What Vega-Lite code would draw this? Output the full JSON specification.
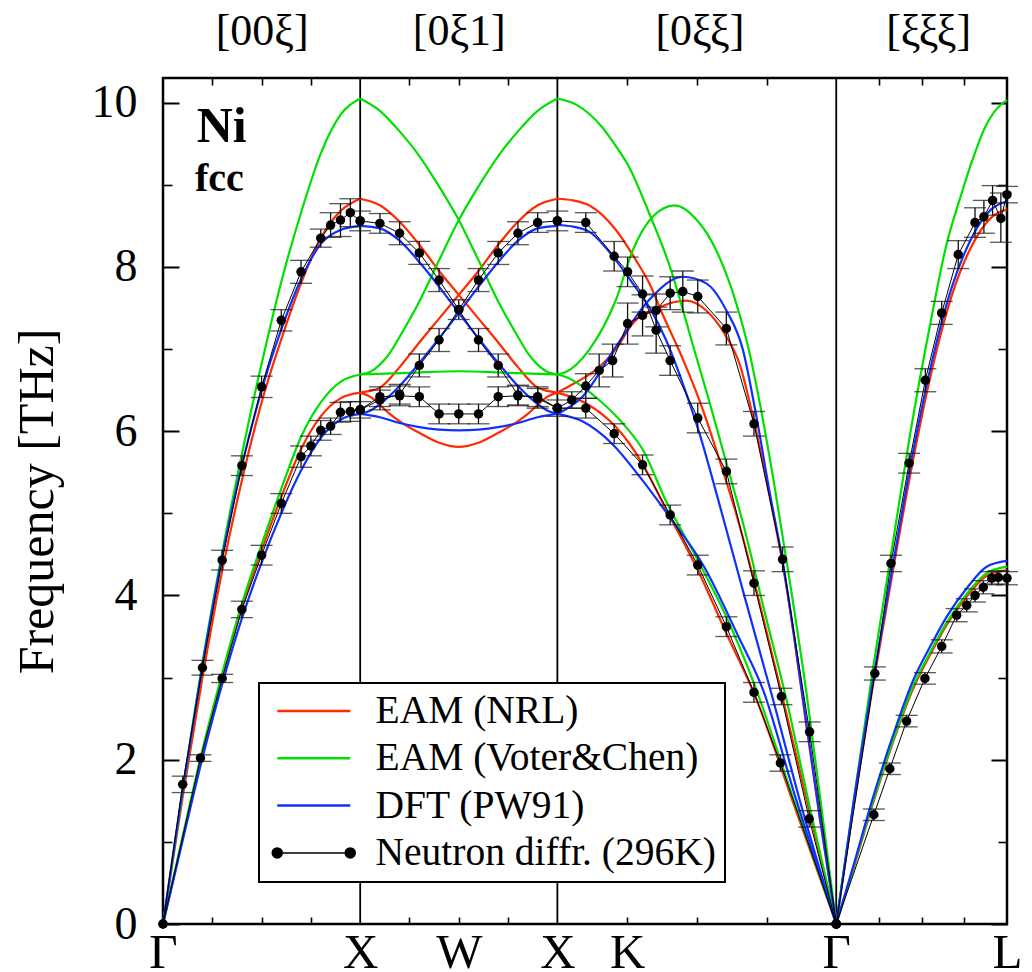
{
"$schema":"https://vega.github.io/schema/vega-lite/v6.json",
"autosize":{"type":"none"},
"padding":{"left":163,"top":78,"right":25,"bottom":48},
"width":844,"height":846,
"config":{"font":"Liberation Serif","view":{"stroke":"black","strokeWidth":2.5},
"axis":{"tickColor":"black","tickWidth":1.6,"labelColor":"black","titleColor":"black","grid":false,"domain":false,"labelFont":"Liberation Serif","titleFont":"Liberation Serif"}},
"datasets":{
"models":[
{"s":"EAM (NRL)","b":"r1","k":0,"v":0},{"s":"EAM (NRL)","b":"r1","k":0.1,"v":1.55},{"s":"EAM (NRL)","b":"r1","k":0.2,"v":3.0},{"s":"EAM (NRL)","b":"r1","k":0.3,"v":4.3},{"s":"EAM (NRL)","b":"r1","k":0.4,"v":5.4},{"s":"EAM (NRL)","b":"r1","k":0.5,"v":6.35},{"s":"EAM (NRL)","b":"r1","k":0.6,"v":7.12},{"s":"EAM (NRL)","b":"r1","k":0.7,"v":7.8},{"s":"EAM (NRL)","b":"r1","k":0.8,"v":8.35},{"s":"EAM (NRL)","b":"r1","k":0.9,"v":8.68},{"s":"EAM (NRL)","b":"r1","k":1.0,"v":8.83},
{"s":"EAM (NRL)","b":"r2","k":0,"v":0},{"s":"EAM (NRL)","b":"r2","k":0.1,"v":1.05},{"s":"EAM (NRL)","b":"r2","k":0.2,"v":2.1},{"s":"EAM (NRL)","b":"r2","k":0.3,"v":3.02},{"s":"EAM (NRL)","b":"r2","k":0.4,"v":3.85},{"s":"EAM (NRL)","b":"r2","k":0.5,"v":4.55},{"s":"EAM (NRL)","b":"r2","k":0.6,"v":5.2},{"s":"EAM (NRL)","b":"r2","k":0.7,"v":5.78},{"s":"EAM (NRL)","b":"r2","k":0.8,"v":6.18},{"s":"EAM (NRL)","b":"r2","k":0.9,"v":6.4},{"s":"EAM (NRL)","b":"r2","k":1.0,"v":6.47},
{"s":"EAM (NRL)","b":"r3","k":1.0,"v":8.83},{"s":"EAM (NRL)","b":"r3","k":1.1,"v":8.75},{"s":"EAM (NRL)","b":"r3","k":1.2,"v":8.55},{"s":"EAM (NRL)","b":"r3","k":1.3,"v":8.27},{"s":"EAM (NRL)","b":"r3","k":1.4,"v":7.95},{"s":"EAM (NRL)","b":"r3","k":1.5,"v":7.66},{"s":"EAM (NRL)","b":"r3","k":1.6,"v":7.37},{"s":"EAM (NRL)","b":"r3","k":1.7,"v":7.08},{"s":"EAM (NRL)","b":"r3","k":1.8,"v":6.78},{"s":"EAM (NRL)","b":"r3","k":1.9,"v":6.53},{"s":"EAM (NRL)","b":"r3","k":1.95,"v":6.49},{"s":"EAM (NRL)","b":"r3","k":2.0,"v":6.47},
{"s":"EAM (NRL)","b":"r4","k":1.0,"v":6.47},{"s":"EAM (NRL)","b":"r4","k":1.05,"v":6.49},{"s":"EAM (NRL)","b":"r4","k":1.1,"v":6.53},{"s":"EAM (NRL)","b":"r4","k":1.2,"v":6.78},{"s":"EAM (NRL)","b":"r4","k":1.3,"v":7.08},{"s":"EAM (NRL)","b":"r4","k":1.4,"v":7.37},{"s":"EAM (NRL)","b":"r4","k":1.5,"v":7.66},{"s":"EAM (NRL)","b":"r4","k":1.6,"v":7.95},{"s":"EAM (NRL)","b":"r4","k":1.7,"v":8.27},{"s":"EAM (NRL)","b":"r4","k":1.8,"v":8.55},{"s":"EAM (NRL)","b":"r4","k":1.9,"v":8.75},{"s":"EAM (NRL)","b":"r4","k":2.0,"v":8.83},
{"s":"EAM (NRL)","b":"r5","k":1.0,"v":6.47},{"s":"EAM (NRL)","b":"r5","k":1.05,"v":6.42},{"s":"EAM (NRL)","b":"r5","k":1.1,"v":6.32},{"s":"EAM (NRL)","b":"r5","k":1.15,"v":6.21},{"s":"EAM (NRL)","b":"r5","k":1.2,"v":6.12},{"s":"EAM (NRL)","b":"r5","k":1.3,"v":5.98},{"s":"EAM (NRL)","b":"r5","k":1.4,"v":5.86},{"s":"EAM (NRL)","b":"r5","k":1.5,"v":5.81},{"s":"EAM (NRL)","b":"r5","k":1.6,"v":5.86},{"s":"EAM (NRL)","b":"r5","k":1.7,"v":5.98},{"s":"EAM (NRL)","b":"r5","k":1.8,"v":6.12},{"s":"EAM (NRL)","b":"r5","k":1.85,"v":6.21},{"s":"EAM (NRL)","b":"r5","k":1.9,"v":6.32},{"s":"EAM (NRL)","b":"r5","k":1.95,"v":6.42},{"s":"EAM (NRL)","b":"r5","k":2.0,"v":6.47},
{"s":"EAM (NRL)","b":"r6","k":2.0,"v":8.83},{"s":"EAM (NRL)","b":"r6","k":2.08,"v":8.81},{"s":"EAM (NRL)","b":"r6","k":2.161,"v":8.75},{"s":"EAM (NRL)","b":"r6","k":2.297,"v":8.45},{"s":"EAM (NRL)","b":"r6","k":2.399,"v":8.08},{"s":"EAM (NRL)","b":"r6","k":2.466,"v":7.8},{"s":"EAM (NRL)","b":"r6","k":2.534,"v":7.42},{"s":"EAM (NRL)","b":"r6","k":2.636,"v":6.88},{"s":"EAM (NRL)","b":"r6","k":2.738,"v":6.26},{"s":"EAM (NRL)","b":"r6","k":2.806,"v":5.77},{"s":"EAM (NRL)","b":"r6","k":2.924,"v":4.85},{"s":"EAM (NRL)","b":"r6","k":3.026,"v":3.9},{"s":"EAM (NRL)","b":"r6","k":3.145,"v":2.73},{"s":"EAM (NRL)","b":"r6","k":3.265,"v":1.5},{"s":"EAM (NRL)","b":"r6","k":3.4142,"v":0},
{"s":"EAM (NRL)","b":"r7","k":2.0,"v":6.47},{"s":"EAM (NRL)","b":"r7","k":2.084,"v":6.58},{"s":"EAM (NRL)","b":"r7","k":2.212,"v":6.78},{"s":"EAM (NRL)","b":"r7","k":2.297,"v":7.0},{"s":"EAM (NRL)","b":"r7","k":2.382,"v":7.31},{"s":"EAM (NRL)","b":"r7","k":2.517,"v":7.51},{"s":"EAM (NRL)","b":"r7","k":2.653,"v":7.59},{"s":"EAM (NRL)","b":"r7","k":2.755,"v":7.47},{"s":"EAM (NRL)","b":"r7","k":2.857,"v":7.15},{"s":"EAM (NRL)","b":"r7","k":2.924,"v":6.82},{"s":"EAM (NRL)","b":"r7","k":2.997,"v":6.12},{"s":"EAM (NRL)","b":"r7","k":3.077,"v":5.2},{"s":"EAM (NRL)","b":"r7","k":3.145,"v":4.35},{"s":"EAM (NRL)","b":"r7","k":3.2,"v":3.5},{"s":"EAM (NRL)","b":"r7","k":3.255,"v":2.55},{"s":"EAM (NRL)","b":"r7","k":3.33,"v":1.3},{"s":"EAM (NRL)","b":"r7","k":3.4142,"v":0},
{"s":"EAM (NRL)","b":"r8","k":2.0,"v":6.47},{"s":"EAM (NRL)","b":"r8","k":2.144,"v":6.34},{"s":"EAM (NRL)","b":"r8","k":2.297,"v":6.05},{"s":"EAM (NRL)","b":"r8","k":2.365,"v":5.85},{"s":"EAM (NRL)","b":"r8","k":2.432,"v":5.6},{"s":"EAM (NRL)","b":"r8","k":2.551,"v":5.05},{"s":"EAM (NRL)","b":"r8","k":2.712,"v":4.31},{"s":"EAM (NRL)","b":"r8","k":2.857,"v":3.54},{"s":"EAM (NRL)","b":"r8","k":2.997,"v":2.81},{"s":"EAM (NRL)","b":"r8","k":3.2,"v":1.45},{"s":"EAM (NRL)","b":"r8","k":3.4142,"v":0},
{"s":"EAM (NRL)","b":"r9","k":3.4142,"v":0},{"s":"EAM (NRL)","b":"r9","k":3.5,"v":1.4},{"s":"EAM (NRL)","b":"r9","k":3.6,"v":2.9},{"s":"EAM (NRL)","b":"r9","k":3.7,"v":4.28},{"s":"EAM (NRL)","b":"r9","k":3.8,"v":5.6},{"s":"EAM (NRL)","b":"r9","k":3.9,"v":6.75},{"s":"EAM (NRL)","b":"r9","k":4.0,"v":7.65},{"s":"EAM (NRL)","b":"r9","k":4.1,"v":8.25},{"s":"EAM (NRL)","b":"r9","k":4.2,"v":8.6},{"s":"EAM (NRL)","b":"r9","k":4.2802,"v":8.7},
{"s":"EAM (NRL)","b":"r10","k":3.4142,"v":0},{"s":"EAM (NRL)","b":"r10","k":3.5,"v":0.66},{"s":"EAM (NRL)","b":"r10","k":3.602,"v":1.48},{"s":"EAM (NRL)","b":"r10","k":3.7,"v":2.2},{"s":"EAM (NRL)","b":"r10","k":3.805,"v":2.87},{"s":"EAM (NRL)","b":"r10","k":3.9,"v":3.32},{"s":"EAM (NRL)","b":"r10","k":3.974,"v":3.64},{"s":"EAM (NRL)","b":"r10","k":4.08,"v":4.0},{"s":"EAM (NRL)","b":"r10","k":4.177,"v":4.24},{"s":"EAM (NRL)","b":"r10","k":4.2802,"v":4.31},
{"s":"EAM (Voter&Chen)","b":"g1","k":0,"v":0},{"s":"EAM (Voter&Chen)","b":"g1","k":0.1,"v":1.62},{"s":"EAM (Voter&Chen)","b":"g1","k":0.2,"v":3.18},{"s":"EAM (Voter&Chen)","b":"g1","k":0.3,"v":4.52},{"s":"EAM (Voter&Chen)","b":"g1","k":0.4,"v":5.72},{"s":"EAM (Voter&Chen)","b":"g1","k":0.5,"v":6.82},{"s":"EAM (Voter&Chen)","b":"g1","k":0.6,"v":7.82},{"s":"EAM (Voter&Chen)","b":"g1","k":0.7,"v":8.66},{"s":"EAM (Voter&Chen)","b":"g1","k":0.8,"v":9.38},{"s":"EAM (Voter&Chen)","b":"g1","k":0.9,"v":9.85},{"s":"EAM (Voter&Chen)","b":"g1","k":1.0,"v":10.05},
{"s":"EAM (Voter&Chen)","b":"g2","k":0,"v":0},{"s":"EAM (Voter&Chen)","b":"g2","k":0.1,"v":1.07},{"s":"EAM (Voter&Chen)","b":"g2","k":0.2,"v":2.12},{"s":"EAM (Voter&Chen)","b":"g2","k":0.3,"v":3.05},{"s":"EAM (Voter&Chen)","b":"g2","k":0.4,"v":3.9},{"s":"EAM (Voter&Chen)","b":"g2","k":0.5,"v":4.62},{"s":"EAM (Voter&Chen)","b":"g2","k":0.6,"v":5.3},{"s":"EAM (Voter&Chen)","b":"g2","k":0.7,"v":5.93},{"s":"EAM (Voter&Chen)","b":"g2","k":0.8,"v":6.35},{"s":"EAM (Voter&Chen)","b":"g2","k":0.9,"v":6.6},{"s":"EAM (Voter&Chen)","b":"g2","k":1.0,"v":6.69},
{"s":"EAM (Voter&Chen)","b":"g3","k":1.0,"v":10.05},{"s":"EAM (Voter&Chen)","b":"g3","k":1.1,"v":9.9},{"s":"EAM (Voter&Chen)","b":"g3","k":1.2,"v":9.65},{"s":"EAM (Voter&Chen)","b":"g3","k":1.3,"v":9.35},{"s":"EAM (Voter&Chen)","b":"g3","k":1.4,"v":8.98},{"s":"EAM (Voter&Chen)","b":"g3","k":1.5,"v":8.57},{"s":"EAM (Voter&Chen)","b":"g3","k":1.6,"v":8.08},{"s":"EAM (Voter&Chen)","b":"g3","k":1.7,"v":7.58},{"s":"EAM (Voter&Chen)","b":"g3","k":1.8,"v":7.15},{"s":"EAM (Voter&Chen)","b":"g3","k":1.85,"v":6.95},{"s":"EAM (Voter&Chen)","b":"g3","k":1.9,"v":6.81},{"s":"EAM (Voter&Chen)","b":"g3","k":1.95,"v":6.72},{"s":"EAM (Voter&Chen)","b":"g3","k":2.0,"v":6.69},
{"s":"EAM (Voter&Chen)","b":"g4","k":1.0,"v":6.69},{"s":"EAM (Voter&Chen)","b":"g4","k":1.05,"v":6.72},{"s":"EAM (Voter&Chen)","b":"g4","k":1.1,"v":6.81},{"s":"EAM (Voter&Chen)","b":"g4","k":1.15,"v":6.95},{"s":"EAM (Voter&Chen)","b":"g4","k":1.2,"v":7.15},{"s":"EAM (Voter&Chen)","b":"g4","k":1.3,"v":7.58},{"s":"EAM (Voter&Chen)","b":"g4","k":1.4,"v":8.08},{"s":"EAM (Voter&Chen)","b":"g4","k":1.5,"v":8.57},{"s":"EAM (Voter&Chen)","b":"g4","k":1.6,"v":8.98},{"s":"EAM (Voter&Chen)","b":"g4","k":1.7,"v":9.35},{"s":"EAM (Voter&Chen)","b":"g4","k":1.8,"v":9.65},{"s":"EAM (Voter&Chen)","b":"g4","k":1.9,"v":9.9},{"s":"EAM (Voter&Chen)","b":"g4","k":2.0,"v":10.05},
{"s":"EAM (Voter&Chen)","b":"g5","k":1.0,"v":6.69},{"s":"EAM (Voter&Chen)","b":"g5","k":1.25,"v":6.71},{"s":"EAM (Voter&Chen)","b":"g5","k":1.5,"v":6.73},{"s":"EAM (Voter&Chen)","b":"g5","k":1.75,"v":6.71},{"s":"EAM (Voter&Chen)","b":"g5","k":2.0,"v":6.69},
{"s":"EAM (Voter&Chen)","b":"g6","k":2.0,"v":10.05},{"s":"EAM (Voter&Chen)","b":"g6","k":2.1,"v":9.97},{"s":"EAM (Voter&Chen)","b":"g6","k":2.224,"v":9.71},{"s":"EAM (Voter&Chen)","b":"g6","k":2.297,"v":9.47},{"s":"EAM (Voter&Chen)","b":"g6","k":2.363,"v":9.22},{"s":"EAM (Voter&Chen)","b":"g6","k":2.466,"v":8.65},{"s":"EAM (Voter&Chen)","b":"g6","k":2.571,"v":8.0},{"s":"EAM (Voter&Chen)","b":"g6","k":2.64,"v":7.45},{"s":"EAM (Voter&Chen)","b":"g6","k":2.687,"v":7.05},{"s":"EAM (Voter&Chen)","b":"g6","k":2.772,"v":6.35},{"s":"EAM (Voter&Chen)","b":"g6","k":2.839,"v":5.77},{"s":"EAM (Voter&Chen)","b":"g6","k":2.95,"v":4.8},{"s":"EAM (Voter&Chen)","b":"g6","k":3.051,"v":3.8},{"s":"EAM (Voter&Chen)","b":"g6","k":3.162,"v":2.73},{"s":"EAM (Voter&Chen)","b":"g6","k":3.28,"v":1.42},{"s":"EAM (Voter&Chen)","b":"g6","k":3.4142,"v":0},
{"s":"EAM (Voter&Chen)","b":"g7","k":2.0,"v":6.69},{"s":"EAM (Voter&Chen)","b":"g7","k":2.043,"v":6.72},{"s":"EAM (Voter&Chen)","b":"g7","k":2.161,"v":6.99},{"s":"EAM (Voter&Chen)","b":"g7","k":2.297,"v":7.6},{"s":"EAM (Voter&Chen)","b":"g7","k":2.382,"v":8.2},{"s":"EAM (Voter&Chen)","b":"g7","k":2.483,"v":8.61},{"s":"EAM (Voter&Chen)","b":"g7","k":2.594,"v":8.75},{"s":"EAM (Voter&Chen)","b":"g7","k":2.704,"v":8.58},{"s":"EAM (Voter&Chen)","b":"g7","k":2.806,"v":8.2},{"s":"EAM (Voter&Chen)","b":"g7","k":2.908,"v":7.55},{"s":"EAM (Voter&Chen)","b":"g7","k":2.975,"v":6.95},{"s":"EAM (Voter&Chen)","b":"g7","k":3.03,"v":6.3},{"s":"EAM (Voter&Chen)","b":"g7","k":3.1,"v":5.35},{"s":"EAM (Voter&Chen)","b":"g7","k":3.18,"v":4.15},{"s":"EAM (Voter&Chen)","b":"g7","k":3.264,"v":2.8},{"s":"EAM (Voter&Chen)","b":"g7","k":3.34,"v":1.4},{"s":"EAM (Voter&Chen)","b":"g7","k":3.4142,"v":0},
{"s":"EAM (Voter&Chen)","b":"g8","k":2.0,"v":6.69},{"s":"EAM (Voter&Chen)","b":"g8","k":2.043,"v":6.66},{"s":"EAM (Voter&Chen)","b":"g8","k":2.212,"v":6.38},{"s":"EAM (Voter&Chen)","b":"g8","k":2.348,"v":6.05},{"s":"EAM (Voter&Chen)","b":"g8","k":2.432,"v":5.78},{"s":"EAM (Voter&Chen)","b":"g8","k":2.551,"v":5.15},{"s":"EAM (Voter&Chen)","b":"g8","k":2.712,"v":4.43},{"s":"EAM (Voter&Chen)","b":"g8","k":2.857,"v":3.74},{"s":"EAM (Voter&Chen)","b":"g8","k":2.997,"v":2.93},{"s":"EAM (Voter&Chen)","b":"g8","k":3.2,"v":1.5},{"s":"EAM (Voter&Chen)","b":"g8","k":3.4142,"v":0},
{"s":"EAM (Voter&Chen)","b":"g9","k":3.4142,"v":0},{"s":"EAM (Voter&Chen)","b":"g9","k":3.5,"v":1.45},{"s":"EAM (Voter&Chen)","b":"g9","k":3.6,"v":3.1},{"s":"EAM (Voter&Chen)","b":"g9","k":3.7,"v":4.62},{"s":"EAM (Voter&Chen)","b":"g9","k":3.788,"v":5.95},{"s":"EAM (Voter&Chen)","b":"g9","k":3.889,"v":7.28},{"s":"EAM (Voter&Chen)","b":"g9","k":3.974,"v":8.28},{"s":"EAM (Voter&Chen)","b":"g9","k":4.044,"v":8.85},{"s":"EAM (Voter&Chen)","b":"g9","k":4.109,"v":9.33},{"s":"EAM (Voter&Chen)","b":"g9","k":4.165,"v":9.68},{"s":"EAM (Voter&Chen)","b":"g9","k":4.23,"v":9.93},{"s":"EAM (Voter&Chen)","b":"g9","k":4.2802,"v":10.03},
{"s":"EAM (Voter&Chen)","b":"g10","k":3.4142,"v":0},{"s":"EAM (Voter&Chen)","b":"g10","k":3.5,"v":0.68},{"s":"EAM (Voter&Chen)","b":"g10","k":3.602,"v":1.5},{"s":"EAM (Voter&Chen)","b":"g10","k":3.7,"v":2.22},{"s":"EAM (Voter&Chen)","b":"g10","k":3.805,"v":2.9},{"s":"EAM (Voter&Chen)","b":"g10","k":3.9,"v":3.35},{"s":"EAM (Voter&Chen)","b":"g10","k":3.974,"v":3.67},{"s":"EAM (Voter&Chen)","b":"g10","k":4.08,"v":4.03},{"s":"EAM (Voter&Chen)","b":"g10","k":4.177,"v":4.27},{"s":"EAM (Voter&Chen)","b":"g10","k":4.2802,"v":4.35},
{"s":"DFT (PW91)","b":"d1","k":0,"v":0},{"s":"DFT (PW91)","b":"d1","k":0.1,"v":1.65},{"s":"DFT (PW91)","b":"d1","k":0.2,"v":3.15},{"s":"DFT (PW91)","b":"d1","k":0.3,"v":4.47},{"s":"DFT (PW91)","b":"d1","k":0.4,"v":5.58},{"s":"DFT (PW91)","b":"d1","k":0.5,"v":6.5},{"s":"DFT (PW91)","b":"d1","k":0.6,"v":7.24},{"s":"DFT (PW91)","b":"d1","k":0.7,"v":7.85},{"s":"DFT (PW91)","b":"d1","k":0.8,"v":8.28},{"s":"DFT (PW91)","b":"d1","k":0.9,"v":8.45},{"s":"DFT (PW91)","b":"d1","k":1.0,"v":8.5},
{"s":"DFT (PW91)","b":"d2","k":0,"v":0},{"s":"DFT (PW91)","b":"d2","k":0.1,"v":1.02},{"s":"DFT (PW91)","b":"d2","k":0.2,"v":2.02},{"s":"DFT (PW91)","b":"d2","k":0.3,"v":2.92},{"s":"DFT (PW91)","b":"d2","k":0.4,"v":3.72},{"s":"DFT (PW91)","b":"d2","k":0.5,"v":4.4},{"s":"DFT (PW91)","b":"d2","k":0.6,"v":5.0},{"s":"DFT (PW91)","b":"d2","k":0.7,"v":5.52},{"s":"DFT (PW91)","b":"d2","k":0.8,"v":5.92},{"s":"DFT (PW91)","b":"d2","k":0.9,"v":6.14},{"s":"DFT (PW91)","b":"d2","k":1.0,"v":6.21},
{"s":"DFT (PW91)","b":"d3","k":1.0,"v":8.5},{"s":"DFT (PW91)","b":"d3","k":1.1,"v":8.47},{"s":"DFT (PW91)","b":"d3","k":1.2,"v":8.32},{"s":"DFT (PW91)","b":"d3","k":1.3,"v":8.06},{"s":"DFT (PW91)","b":"d3","k":1.4,"v":7.76},{"s":"DFT (PW91)","b":"d3","k":1.5,"v":7.44},{"s":"DFT (PW91)","b":"d3","k":1.6,"v":7.13},{"s":"DFT (PW91)","b":"d3","k":1.7,"v":6.83},{"s":"DFT (PW91)","b":"d3","k":1.8,"v":6.55},{"s":"DFT (PW91)","b":"d3","k":1.9,"v":6.33},{"s":"DFT (PW91)","b":"d3","k":1.95,"v":6.25},{"s":"DFT (PW91)","b":"d3","k":2.0,"v":6.21},
{"s":"DFT (PW91)","b":"d4","k":1.0,"v":6.21},{"s":"DFT (PW91)","b":"d4","k":1.05,"v":6.25},{"s":"DFT (PW91)","b":"d4","k":1.1,"v":6.33},{"s":"DFT (PW91)","b":"d4","k":1.2,"v":6.55},{"s":"DFT (PW91)","b":"d4","k":1.3,"v":6.83},{"s":"DFT (PW91)","b":"d4","k":1.4,"v":7.13},{"s":"DFT (PW91)","b":"d4","k":1.5,"v":7.44},{"s":"DFT (PW91)","b":"d4","k":1.6,"v":7.76},{"s":"DFT (PW91)","b":"d4","k":1.7,"v":8.06},{"s":"DFT (PW91)","b":"d4","k":1.8,"v":8.32},{"s":"DFT (PW91)","b":"d4","k":1.9,"v":8.47},{"s":"DFT (PW91)","b":"d4","k":2.0,"v":8.5},
{"s":"DFT (PW91)","b":"d5","k":1.0,"v":6.21},{"s":"DFT (PW91)","b":"d5","k":1.1,"v":6.17},{"s":"DFT (PW91)","b":"d5","k":1.2,"v":6.1},{"s":"DFT (PW91)","b":"d5","k":1.3,"v":6.05},{"s":"DFT (PW91)","b":"d5","k":1.4,"v":6.02},{"s":"DFT (PW91)","b":"d5","k":1.5,"v":6.01},{"s":"DFT (PW91)","b":"d5","k":1.6,"v":6.02},{"s":"DFT (PW91)","b":"d5","k":1.7,"v":6.05},{"s":"DFT (PW91)","b":"d5","k":1.8,"v":6.1},{"s":"DFT (PW91)","b":"d5","k":1.9,"v":6.17},{"s":"DFT (PW91)","b":"d5","k":2.0,"v":6.21},
{"s":"DFT (PW91)","b":"d6","k":2.0,"v":8.51},{"s":"DFT (PW91)","b":"d6","k":2.08,"v":8.49},{"s":"DFT (PW91)","b":"d6","k":2.161,"v":8.43},{"s":"DFT (PW91)","b":"d6","k":2.297,"v":8.08},{"s":"DFT (PW91)","b":"d6","k":2.382,"v":7.8},{"s":"DFT (PW91)","b":"d6","k":2.466,"v":7.51},{"s":"DFT (PW91)","b":"d6","k":2.551,"v":7.11},{"s":"DFT (PW91)","b":"d6","k":2.636,"v":6.58},{"s":"DFT (PW91)","b":"d6","k":2.721,"v":5.97},{"s":"DFT (PW91)","b":"d6","k":2.823,"v":5.1},{"s":"DFT (PW91)","b":"d6","k":2.95,"v":3.98},{"s":"DFT (PW91)","b":"d6","k":3.094,"v":2.73},{"s":"DFT (PW91)","b":"d6","k":3.23,"v":1.5},{"s":"DFT (PW91)","b":"d6","k":3.4142,"v":0},
{"s":"DFT (PW91)","b":"d7","k":2.0,"v":6.21},{"s":"DFT (PW91)","b":"d7","k":2.127,"v":6.42},{"s":"DFT (PW91)","b":"d7","k":2.297,"v":7.03},{"s":"DFT (PW91)","b":"d7","k":2.466,"v":7.6},{"s":"DFT (PW91)","b":"d7","k":2.636,"v":7.88},{"s":"DFT (PW91)","b":"d7","k":2.755,"v":7.8},{"s":"DFT (PW91)","b":"d7","k":2.857,"v":7.47},{"s":"DFT (PW91)","b":"d7","k":2.941,"v":6.99},{"s":"DFT (PW91)","b":"d7","k":3.0,"v":6.3},{"s":"DFT (PW91)","b":"d7","k":3.077,"v":5.25},{"s":"DFT (PW91)","b":"d7","k":3.145,"v":4.38},{"s":"DFT (PW91)","b":"d7","k":3.2,"v":3.52},{"s":"DFT (PW91)","b":"d7","k":3.255,"v":2.58},{"s":"DFT (PW91)","b":"d7","k":3.33,"v":1.32},{"s":"DFT (PW91)","b":"d7","k":3.4142,"v":0},
{"s":"DFT (PW91)","b":"d8","k":2.0,"v":6.21},{"s":"DFT (PW91)","b":"d8","k":2.127,"v":6.12},{"s":"DFT (PW91)","b":"d8","k":2.276,"v":5.85},{"s":"DFT (PW91)","b":"d8","k":2.416,"v":5.45},{"s":"DFT (PW91)","b":"d8","k":2.571,"v":4.95},{"s":"DFT (PW91)","b":"d8","k":2.744,"v":4.35},{"s":"DFT (PW91)","b":"d8","k":2.918,"v":3.5},{"s":"DFT (PW91)","b":"d8","k":3.043,"v":2.85},{"s":"DFT (PW91)","b":"d8","k":3.2,"v":1.6},{"s":"DFT (PW91)","b":"d8","k":3.4142,"v":0},
{"s":"DFT (PW91)","b":"d9","k":3.4142,"v":0},{"s":"DFT (PW91)","b":"d9","k":3.5,"v":1.45},{"s":"DFT (PW91)","b":"d9","k":3.6,"v":2.95},{"s":"DFT (PW91)","b":"d9","k":3.7,"v":4.35},{"s":"DFT (PW91)","b":"d9","k":3.8,"v":5.7},{"s":"DFT (PW91)","b":"d9","k":3.9,"v":6.85},{"s":"DFT (PW91)","b":"d9","k":4.0,"v":7.75},{"s":"DFT (PW91)","b":"d9","k":4.1,"v":8.35},{"s":"DFT (PW91)","b":"d9","k":4.2,"v":8.7},{"s":"DFT (PW91)","b":"d9","k":4.2802,"v":8.8},
{"s":"DFT (PW91)","b":"d10","k":3.4142,"v":0},{"s":"DFT (PW91)","b":"d10","k":3.5,"v":0.7},{"s":"DFT (PW91)","b":"d10","k":3.602,"v":1.55},{"s":"DFT (PW91)","b":"d10","k":3.7,"v":2.28},{"s":"DFT (PW91)","b":"d10","k":3.805,"v":2.97},{"s":"DFT (PW91)","b":"d10","k":3.9,"v":3.42},{"s":"DFT (PW91)","b":"d10","k":3.974,"v":3.74},{"s":"DFT (PW91)","b":"d10","k":4.08,"v":4.1},{"s":"DFT (PW91)","b":"d10","k":4.177,"v":4.35},{"s":"DFT (PW91)","b":"d10","k":4.2802,"v":4.42}
],
"neutron":[
{"b":"n1","k":0,"v":0},{"b":"n1","k":0.1,"v":1.7,"lo":1.6,"hi":1.8},{"b":"n1","k":0.2,"v":3.12,"lo":3.03,"hi":3.21},{"b":"n1","k":0.3,"v":4.43,"lo":4.31,"hi":4.55},{"b":"n1","k":0.4,"v":5.58,"lo":5.46,"hi":5.7},{"b":"n1","k":0.5,"v":6.54,"lo":6.41,"hi":6.67},{"b":"n1","k":0.6,"v":7.35,"lo":7.22,"hi":7.48},{"b":"n1","k":0.7,"v":7.94,"lo":7.8,"hi":8.08},{"b":"n1","k":0.8,"v":8.35,"lo":8.24,"hi":8.46},{"b":"n1","k":0.85,"v":8.51,"lo":8.36,"hi":8.66},{"b":"n1","k":0.9,"v":8.57,"lo":8.37,"hi":8.77},{"b":"n1","k":0.95,"v":8.66,"lo":8.49,"hi":8.83},{"b":"n1","k":1.0,"v":8.56,"lo":8.44,"hi":8.68},
{"b":"n2","k":0,"v":0},{"b":"n2","k":0.19,"v":2.02,"lo":1.98,"hi":2.06},{"b":"n2","k":0.3,"v":2.99,"lo":2.94,"hi":3.04},{"b":"n2","k":0.4,"v":3.83,"lo":3.73,"hi":3.93},{"b":"n2","k":0.5,"v":4.49,"lo":4.37,"hi":4.61},{"b":"n2","k":0.6,"v":5.12,"lo":5.0,"hi":5.24},{"b":"n2","k":0.7,"v":5.69,"lo":5.56,"hi":5.82},{"b":"n2","k":0.75,"v":5.82,"lo":5.7,"hi":5.94},{"b":"n2","k":0.8,"v":6.01,"lo":5.89,"hi":6.13},{"b":"n2","k":0.85,"v":6.06,"lo":5.96,"hi":6.16},{"b":"n2","k":0.9,"v":6.23,"lo":6.11,"hi":6.35},{"b":"n2","k":0.95,"v":6.24,"lo":6.12,"hi":6.36},{"b":"n2","k":1.0,"v":6.26,"lo":6.16,"hi":6.36},
{"b":"n3","k":1.0,"v":8.56},{"b":"n3","k":1.1,"v":8.53,"lo":8.41,"hi":8.65},{"b":"n3","k":1.2,"v":8.41,"lo":8.27,"hi":8.55},{"b":"n3","k":1.3,"v":8.17,"lo":8.03,"hi":8.31},{"b":"n3","k":1.4,"v":7.84,"lo":7.7,"hi":7.98},{"b":"n3","k":1.5,"v":7.48,"lo":7.36,"hi":7.6},{"b":"n3","k":1.6,"v":7.11,"lo":6.97,"hi":7.25},{"b":"n3","k":1.7,"v":6.8,"lo":6.66,"hi":6.94},{"b":"n3","k":1.8,"v":6.44,"lo":6.32,"hi":6.56},{"b":"n3","k":1.9,"v":6.4,"lo":6.28,"hi":6.52},{"b":"n3","k":2.0,"v":6.28,"lo":6.18,"hi":6.38},
{"b":"n4","k":1.0,"v":6.26},{"b":"n4","k":1.1,"v":6.38,"lo":6.26,"hi":6.5},{"b":"n4","k":1.2,"v":6.45,"lo":6.33,"hi":6.57},{"b":"n4","k":1.3,"v":6.8,"lo":6.66,"hi":6.94},{"b":"n4","k":1.4,"v":7.11,"lo":6.97,"hi":7.25},{"b":"n4","k":1.5,"v":7.48},{"b":"n4","k":1.6,"v":7.84,"lo":7.7,"hi":7.98},{"b":"n4","k":1.7,"v":8.17,"lo":8.03,"hi":8.31},{"b":"n4","k":1.8,"v":8.41,"lo":8.27,"hi":8.55},{"b":"n4","k":1.9,"v":8.54,"lo":8.42,"hi":8.66},{"b":"n4","k":2.0,"v":8.56,"lo":8.44,"hi":8.68},
{"b":"n5","k":1.0,"v":6.26},{"b":"n5","k":1.1,"v":6.42,"lo":6.3,"hi":6.54},{"b":"n5","k":1.2,"v":6.43,"lo":6.31,"hi":6.55},{"b":"n5","k":1.3,"v":6.42,"lo":6.3,"hi":6.54},{"b":"n5","k":1.4,"v":6.21,"lo":6.09,"hi":6.33},{"b":"n5","k":1.5,"v":6.21,"lo":6.09,"hi":6.33},{"b":"n5","k":1.6,"v":6.21,"lo":6.09,"hi":6.33},{"b":"n5","k":1.7,"v":6.42,"lo":6.3,"hi":6.54},{"b":"n5","k":1.8,"v":6.43,"lo":6.31,"hi":6.55},{"b":"n5","k":1.9,"v":6.42,"lo":6.3,"hi":6.54},{"b":"n5","k":2.0,"v":6.28},
{"b":"n6","k":2.0,"v":8.56},{"b":"n6","k":2.144,"v":8.54,"lo":8.42,"hi":8.66},{"b":"n6","k":2.288,"v":8.13,"lo":7.95,"hi":8.31},{"b":"n6","k":2.356,"v":7.94,"lo":7.76,"hi":8.12},{"b":"n6","k":2.432,"v":7.67,"lo":7.45,"hi":7.89},{"b":"n6","k":2.501,"v":7.23,"lo":6.95,"hi":7.51},{"b":"n6","k":2.572,"v":6.86,"lo":6.68,"hi":7.04},{"b":"n6","k":2.712,"v":6.16,"lo":5.98,"hi":6.34},{"b":"n6","k":2.857,"v":5.51,"lo":5.36,"hi":5.66},{"b":"n6","k":2.997,"v":4.15,"lo":4.0,"hi":4.3},{"b":"n6","k":3.136,"v":2.77,"lo":2.67,"hi":2.87},{"b":"n6","k":3.277,"v":1.28,"lo":1.18,"hi":1.38},{"b":"n6","k":3.4142,"v":0},
{"b":"n7","k":2.0,"v":6.28},{"b":"n7","k":2.073,"v":6.38,"lo":6.28,"hi":6.48},{"b":"n7","k":2.144,"v":6.55,"lo":6.4,"hi":6.7},{"b":"n7","k":2.212,"v":6.74,"lo":6.54,"hi":6.94},{"b":"n7","k":2.28,"v":6.86,"lo":6.66,"hi":7.06},{"b":"n7","k":2.356,"v":7.31,"lo":7.06,"hi":7.56},{"b":"n7","k":2.432,"v":7.41,"lo":7.16,"hi":7.66},{"b":"n7","k":2.501,"v":7.47,"lo":7.27,"hi":7.67},{"b":"n7","k":2.572,"v":7.68,"lo":7.48,"hi":7.88},{"b":"n7","k":2.636,"v":7.7,"lo":7.45,"hi":7.95},{"b":"n7","k":2.712,"v":7.64,"lo":7.44,"hi":7.84},{"b":"n7","k":2.857,"v":7.25,"lo":7.05,"hi":7.45},{"b":"n7","k":2.997,"v":6.09,"lo":5.94,"hi":6.24},{"b":"n7","k":3.142,"v":4.44,"lo":4.29,"hi":4.59},{"b":"n7","k":3.279,"v":2.34,"lo":2.22,"hi":2.46},{"b":"n7","k":3.4142,"v":0},
{"b":"n8","k":2.0,"v":6.28},{"b":"n8","k":2.144,"v":6.28,"lo":6.16,"hi":6.4},{"b":"n8","k":2.288,"v":5.97,"lo":5.85,"hi":6.09},{"b":"n8","k":2.432,"v":5.59,"lo":5.47,"hi":5.71},{"b":"n8","k":2.572,"v":4.98,"lo":4.86,"hi":5.1},{"b":"n8","k":2.712,"v":4.37,"lo":4.25,"hi":4.49},{"b":"n8","k":2.857,"v":3.62,"lo":3.5,"hi":3.74},{"b":"n8","k":2.997,"v":2.82,"lo":2.7,"hi":2.94},{"b":"n8","k":3.131,"v":1.96,"lo":1.86,"hi":2.06},{"b":"n8","k":3.4142,"v":0},
{"b":"n9","k":3.4142,"v":0},{"b":"n9","k":3.61,"v":3.05,"lo":2.97,"hi":3.13},{"b":"n9","k":3.692,"v":4.39,"lo":4.29,"hi":4.49},{"b":"n9","k":3.784,"v":5.61,"lo":5.49,"hi":5.73},{"b":"n9","k":3.866,"v":6.62,"lo":6.48,"hi":6.76},{"b":"n9","k":3.949,"v":7.44,"lo":7.3,"hi":7.58},{"b":"n9","k":4.033,"v":8.15,"lo":7.98,"hi":8.32},{"b":"n9","k":4.118,"v":8.54,"lo":8.36,"hi":8.72},{"b":"n9","k":4.163,"v":8.61,"lo":8.41,"hi":8.81},{"b":"n9","k":4.207,"v":8.81,"lo":8.63,"hi":8.99},{"b":"n9","k":4.249,"v":8.59,"lo":8.3,"hi":8.9},{"b":"n9","k":4.28,"v":8.88,"lo":8.78,"hi":8.98},
{"b":"n10","k":3.4142,"v":0},{"b":"n10","k":3.605,"v":1.33,"lo":1.26,"hi":1.4},{"b":"n10","k":3.686,"v":1.89,"lo":1.82,"hi":1.96},{"b":"n10","k":3.771,"v":2.47,"lo":2.4,"hi":2.54},{"b":"n10","k":3.864,"v":2.99,"lo":2.92,"hi":3.06},{"b":"n10","k":3.949,"v":3.38,"lo":3.3,"hi":3.46},{"b":"n10","k":4.025,"v":3.76,"lo":3.68,"hi":3.84},{"b":"n10","k":4.076,"v":3.88,"lo":3.8,"hi":3.96},{"b":"n10","k":4.118,"v":4.0,"lo":3.92,"hi":4.08},{"b":"n10","k":4.16,"v":4.1,"lo":4.02,"hi":4.18},{"b":"n10","k":4.203,"v":4.21,"lo":4.13,"hi":4.29},{"b":"n10","k":4.236,"v":4.22,"lo":4.14,"hi":4.3},{"b":"n10","k":4.28,"v":4.21,"lo":4.13,"hi":4.29}
]
},
"resolve":{"axis":{"x":"independent","y":"independent"}},
"layer":[
{"data":{"values":[{"k":1},{"k":2},{"k":3.4142}]},
 "mark":{"type":"rule","color":"black","strokeWidth":1.8},
 "encoding":{"x":{"field":"k","type":"quantitative","scale":{"domain":[0,4.2802],"nice":false,"zero":false},
  "axis":{"orient":"bottom","values":[0,1,1.5,2,2.3536,3.4142,4.2802],"labelExpr":"datum.value < 0.5 ? 'Γ' : datum.value < 1.2 ? 'X' : datum.value < 1.7 ? 'W' : datum.value < 2.2 ? 'X' : datum.value < 3 ? 'K' : datum.value < 4 ? 'Γ' : 'L'","ticks":false,"labelFontSize":49,"labelPadding":4,"labelFlush":false,"labelOverlap":false,"labelBound":false,"title":null}}}},
{"data":{"name":"models"},
 "mark":{"type":"line","strokeWidth":2.2,"interpolate":"monotone"},
 "encoding":{
  "x":{"field":"k","type":"quantitative","axis":{"orient":"bottom","values":[0.25,0.5,0.75,1.25,1.5,1.75,2.3536,2.7071,3.0607,3.6307,3.8472,4.0637],"tickSize":-7,"labels":false,"title":null}},
  "y":{"field":"v","type":"quantitative","scale":{"domain":[0,10.3],"nice":false,"zero":false},
   "axis":{"orient":"left","values":[0,2,4,6,8,10],"tickSize":-16,"tickWidth":2,"labelFontSize":46,"labelPadding":42,"labelFlush":false,"title":"Frequency [THz]","titleFontSize":50,"titleFontWeight":"normal","titlePadding":29}},
  "color":{"field":"s","type":"nominal","scale":{"domain":["EAM (NRL)","EAM (Voter&Chen)","DFT (PW91)","Neutron diffr. (296K)"],"range":["#ff2a00","#00e000","#1030ff","#000000"]},
   "legend":{"orient":"none","legendX":96,"legendY":605,"title":null,"labelFont":"Liberation Serif","labelFontSize":39.5,"labelColor":"black","labelLimit":800,"symbolType":"stroke","symbolSize":5329,"symbolStrokeWidth":2.5,"clipHeight":38,"rowPadding":7.3,"padding":9,"symbolOffset":26,"labelOffset":42,"strokeColor":"black","fillColor":"white",
    "encode":{"legend":{"update":{"strokeWidth":{"value":2}}},
     "symbols":{"update":{"shape":{"signal":"datum.value === 'Neutron diffr. (296K)' ? 'M-1,0L1,0M-1.137,0a0.137,0.137 0 1,0 0.274,0a0.137,0.137 0 1,0 -0.274,0ZM0.863,0a0.137,0.137 0 1,0 0.274,0a0.137,0.137 0 1,0 -0.274,0Z' : 'stroke'"},"fill":{"signal":"datum.value === 'Neutron diffr. (296K)' ? 'black' : 'transparent'"},"strokeWidth":{"signal":"datum.value === 'Neutron diffr. (296K)' ? 1.5 : 2.5"}}}}}},
  "detail":{"field":"b"}}},
{"data":{"name":"neutron"},
 "mark":{"type":"line","color":"black","strokeWidth":1},
 "encoding":{
  "x":{"field":"k","type":"quantitative","axis":{"orient":"top","values":[0.25,0.5,0.75,1.25,1.5,1.75,2.3536,2.7071,3.0607,3.6307,3.8472,4.0637],"tickSize":-7,"labels":false,"title":null}},
  "y":{"field":"v","type":"quantitative","axis":{"orient":"left","values":[1,3,5,7,9],"tickSize":-9,"labels":false,"title":null}},
  "detail":{"field":"b"}}},
{"data":{"name":"neutron"},
 "transform":[{"filter":"isValid(datum.lo)"}],
 "mark":{"type":"errorbar","ticks":true,"size":22,"thickness":1.3,"color":"#111111"},
 "encoding":{
  "x":{"field":"k","type":"quantitative","axis":null},
  "y":{"field":"lo","type":"quantitative","axis":null},
  "y2":{"field":"hi"}}},
{"data":{"name":"neutron"},
 "mark":{"type":"point","filled":true,"color":"black","size":90,"opacity":1},
 "encoding":{
  "x":{"field":"k","type":"quantitative","axis":{"orient":"top","values":[0.5,1.5,2.72,3.88],"labelExpr":"datum.value < 1 ? '[00ξ]' : datum.value < 2 ? '[0ξ1]' : datum.value < 3 ? '[0ξξ]' : '[ξξξ]'","ticks":false,"labelFontSize":44,"labelPadding":25,"labelFlush":false,"labelOverlap":false,"labelBound":false,"title":null}},
  "y":{"field":"v","type":"quantitative","axis":{"orient":"right","values":[0,2,4,6,8,10],"tickSize":-16,"tickWidth":2,"labels":false,"title":null}}}},
{"data":{"values":[{"k":0.171,"v":9.52,"t":"Ni"}]},
 "mark":{"type":"text","fontSize":50,"fontWeight":"bold","align":"left","baseline":"alphabetic","color":"black"},
 "encoding":{"x":{"field":"k","type":"quantitative","axis":null},"y":{"field":"v","type":"quantitative","axis":{"orient":"right","values":[1,3,5,7,9],"tickSize":-9,"labels":false,"title":null}},"text":{"field":"t"}}},
{"data":{"values":[{"k":0.162,"v":8.92,"t":"fcc"}]},
 "mark":{"type":"text","fontSize":40,"fontWeight":"bold","align":"left","baseline":"alphabetic","color":"black"},
 "encoding":{"x":{"field":"k","type":"quantitative","axis":null},"y":{"field":"v","type":"quantitative","axis":null},"text":{"field":"t"}}}
]
}
